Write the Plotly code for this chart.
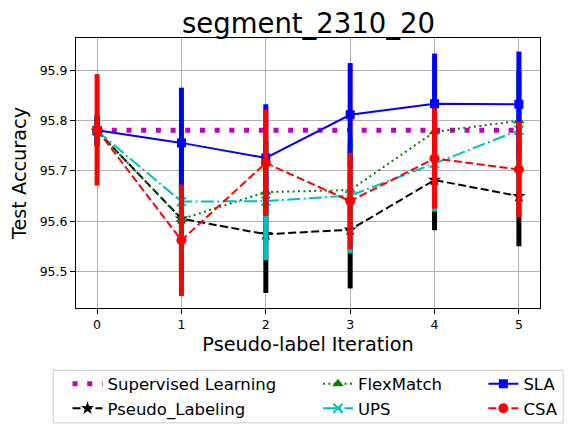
import plotly.graph_objects as go

# pseudo-label iterations
iterations = [0, 1, 2, 3, 4, 5]

# test accuracy per method
supervised = [95.781, 95.781, 95.781, 95.781, 95.781, 95.781]

pseudo_labeling = [95.780, 95.605, 95.574, 95.583, 95.682, 95.650]
pseudo_labeling_std = [0.03, 0.12, 0.117, 0.117, 0.10, 0.10]

flexmatch = [95.780, 95.604, 95.658, 95.662, 95.778, 95.800]
flexmatch_std = [0.03, 0.11, 0.10, 0.09, 0.10, 0.10]

ups = [95.780, 95.639, 95.640, 95.651, 95.715, 95.781]
ups_std = [0.03, 0.12, 0.118, 0.115, 0.096, 0.12]

sla = [95.781, 95.756, 95.726, 95.812, 95.834, 95.833]
sla_std = [0.03, 0.11, 0.107, 0.103, 0.10, 0.105]

csa = [95.782, 95.562, 95.716, 95.640, 95.725, 95.703]
csa_std = [0.111, 0.111, 0.106, 0.096, 0.10, 0.096]

FONT = "DejaVu Sans"


def err(values, color):
    return dict(type="data", array=values, visible=True,
                color=color, thickness=5, width=0)


fig = go.Figure()

fig.add_trace(go.Scatter(
    x=iterations, y=supervised, name="Supervised Learning", mode="lines",
    line=dict(color="#bf00bf", width=5, dash="5px,9.7px"),
    legend="legend"))

fig.add_trace(go.Scatter(
    x=iterations, y=pseudo_labeling, name="Pseudo_Labeling", mode="lines+markers",
    line=dict(color="black", width=2, dash="8px,3.5px"),
    marker=dict(symbol="star", size=10, color="black"),
    error_y=err(pseudo_labeling_std, "black"),
    legend="legend"))

fig.add_trace(go.Scatter(
    x=iterations, y=flexmatch, name="FlexMatch", mode="lines+markers",
    line=dict(color="green", width=2, dash="2px,3.4px"),
    marker=dict(symbol="triangle-up", size=10, color="green"),
    error_y=err(flexmatch_std, "green"),
    legend="legend2"))

fig.add_trace(go.Scatter(
    x=iterations, y=ups, name="UPS", mode="lines+markers",
    line=dict(color="#00bfbf", width=2, dash="13px,3.3px,2px,3.3px"),
    marker=dict(symbol="x-thin", size=9, color="#00bfbf",
                line=dict(color="#00bfbf", width=2)),
    error_y=err(ups_std, "#00bfbf"),
    legend="legend2"))

fig.add_trace(go.Scatter(
    x=iterations, y=sla, name="SLA", mode="lines+markers",
    line=dict(color="blue", width=2),
    marker=dict(symbol="square", size=9, color="blue"),
    error_y=err(sla_std, "blue"),
    legend="legend3"))

fig.add_trace(go.Scatter(
    x=iterations, y=csa, name="CSA", mode="lines+markers",
    line=dict(color="red", width=2, dash="8px,3.5px"),
    marker=dict(symbol="circle", size=10, color="red"),
    error_y=err(csa_std, "red"),
    legend="legend3"))

legend_common = dict(orientation="v", xanchor="left", yanchor="top",
                     bgcolor="rgba(0,0,0,0)", borderwidth=0,
                     font=dict(family=FONT, size=16.5, color="black"),
                     itemwidth=30)

# the page adds an 8px body margin, so the margins are trimmed by 8px
fig.update_layout(
    width=572, height=433,
    margin=dict(l=68, r=40, t=30, b=133, autoexpand=False),
    paper_bgcolor="white", plot_bgcolor="white",
    font=dict(family=FONT, color="black"),
    showlegend=True,
    legend=dict(x=-0.0183, y=-0.217, **legend_common),
    legend2=dict(x=0.5215, y=-0.217, **legend_common),
    legend3=dict(x=0.878, y=-0.217, **legend_common),
    annotations=[dict(text="segment_2310_20", xref="paper", yref="paper",
                      x=0.5, y=1.055, yanchor="middle", showarrow=False,
                      font=dict(family=FONT, size=27.5, color="black"))],
    shapes=[dict(type="rect", xref="paper", yref="paper",
                 x0=-0.049, x1=1.050, y0=-0.4254, y1=-0.2313,
                 line=dict(color="#cccccc", width=1))],
)

fig.update_xaxes(
    range=[-0.25, 5.25], tickvals=iterations, automargin=False,
    showgrid=True, gridcolor="#b0b0b0", gridwidth=1,
    showline=True, linecolor="black", linewidth=1, mirror=True,
    ticks="outside", ticklen=5, tickcolor="black", zeroline=False,
    tickfont=dict(family=FONT, size=12.5, color="black"),
    title=dict(text="Pseudo-label Iteration", standoff=6,
               font=dict(family=FONT, size=19.3, color="black")))

fig.update_yaxes(
    range=[95.427, 95.965], dtick=0.1, tick0=95.5, tickformat=".1f",
    automargin=False,
    showgrid=True, gridcolor="#b0b0b0", gridwidth=1,
    showline=True, linecolor="black", linewidth=1, mirror=True,
    ticks="outside", ticklen=5, tickcolor="black", zeroline=False,
    tickfont=dict(family=FONT, size=12.5, color="black"),
    title=dict(text="Test Accuracy", standoff=19,
               font=dict(family=FONT, size=19.3, color="black")))

fig.write_html("out.html")
